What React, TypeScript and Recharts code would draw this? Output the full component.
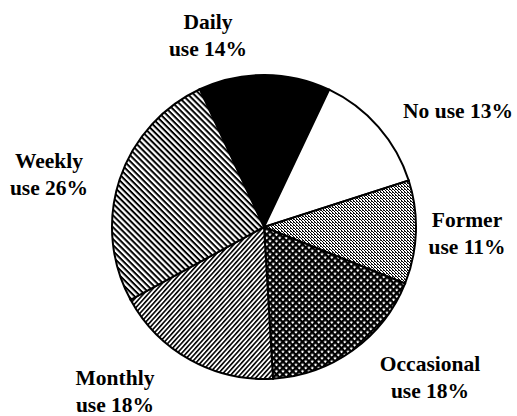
import React from 'react';
import { PieChart, Pie, Cell } from 'recharts';

// usage groups, clockwise from the top-left boundary
const categories = ['Daily', 'No', 'Former', 'Occasional', 'Monthly', 'Weekly'];
const shares = [14, 13, 11, 18, 18, 26];

const fills = ['#000', '#fff', 'url(#stipple)', 'url(#crosshatch)', 'url(#stripeUp)', 'url(#stripeDown)'];
// label anchor (center x, first baseline y) and whether the label wraps onto two lines
const labelSpots = [
  { x: 208, y: 29, wrap: true },
  { x: 458, y: 118, wrap: false },
  { x: 467, y: 227, wrap: true },
  { x: 430, y: 371, wrap: true },
  { x: 115, y: 385, wrap: true },
  { x: 49, y: 168, wrap: true },
];

const data = categories.map((name, i) => ({ name, value: shares[i] }));

const renderLabel = (props: any) => {
  const i = props.index;
  const spot = labelSpots[i];
  const d = data[i];
  const style = { fontFamily: '"Liberation Serif", "Times New Roman", serif', fontWeight: 700, fontSize: 21.5 };
  if (!spot.wrap) {
    return (
      <text x={spot.x} y={spot.y} textAnchor="middle" fill="#000" style={style}>
        {`${d.name} use ${d.value}%`}
      </text>
    );
  }
  return (
    <text x={spot.x} y={spot.y} textAnchor="middle" fill="#000" style={style}>
      <tspan x={spot.x}>{d.name}</tspan>
      <tspan x={spot.x} dy={26.5}>{`use ${d.value}%`}</tspan>
    </text>
  );
};

export default function App() {
  return (
    <div style={{ position: 'absolute', left: 0, top: 0, width: 517, height: 416, background: '#fff' }}>
      <svg width={0} height={0} style={{ position: 'absolute' }}>
        <defs>
          <pattern id="stripeDown" width={4.2} height={4.2} patternUnits="userSpaceOnUse" patternTransform="rotate(45)">
            <rect width={4.2} height={4.2} fill="#fff" />
            <rect width={4.2} height={2} fill="#000" />
          </pattern>
          <pattern id="stripeUp" width={3.4} height={3.4} patternUnits="userSpaceOnUse" patternTransform="rotate(-48)">
            <rect width={3.4} height={3.4} fill="#fff" />
            <rect width={3.4} height={1.6} fill="#000" />
          </pattern>
          <pattern id="crosshatch" width={4.6} height={4.6} patternUnits="userSpaceOnUse" patternTransform="rotate(45)">
            <rect width={4.6} height={4.6} fill="#000" />
            <rect x={1.5} y={1.5} width={2.2} height={2.2} fill="#fff" />
          </pattern>
          <pattern id="stipple" width={3} height={3} patternUnits="userSpaceOnUse">
            <rect width={3} height={3} fill="#fff" />
            <rect x={0} y={0} width={1} height={1} fill="#000" />
            <rect x={1} y={1} width={1} height={1} fill="#000" />
            <rect x={2} y={2} width={1} height={1} fill="#000" />
            <rect x={2} y={0} width={1} height={1} fill="#333" />
          </pattern>
        </defs>
      </svg>
      <PieChart width={517} height={416}>
        <Pie
          data={data}
          dataKey="value"
          nameKey="name"
          cx={259}
          cy={222}
          outerRadius={152}
          startAngle={115}
          endAngle={-245}
          stroke="#000"
          strokeWidth={2}
          label={renderLabel}
          labelLine={false}
          isAnimationActive={false}
        >
          {data.map((d, i) => (
            <Cell key={d.name} fill={fills[i]} />
          ))}
        </Pie>
      </PieChart>
    </div>
  );
}
